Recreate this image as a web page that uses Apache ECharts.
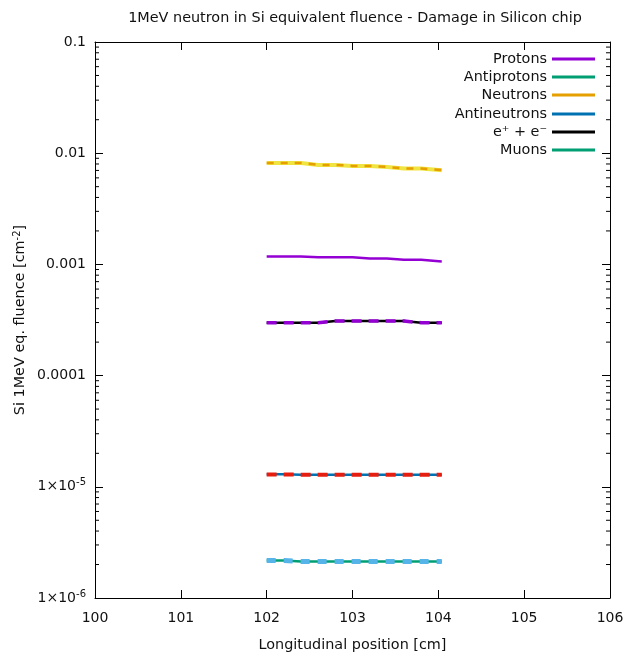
<!DOCTYPE html>
<html>
<head>
<meta charset="utf-8">
<script src="https://cdn.jsdelivr.net/npm/echarts@6/dist/echarts.min.js"></script>
<style>
  html, body { margin: 0; padding: 0; background: #fff; }
  #chart { width: 628px; height: 654px; }
</style>
</head>
<body>
<div id="chart"></div>
<script>
// bin edges along the beam (cm), last point closes the final step
const positions = [102.0, 102.2, 102.4, 102.6, 102.8, 103.0, 103.2, 103.4, 103.6, 103.8, 104.04];

const protons = [1.18e-3, 1.18e-3, 1.16e-3, 1.16e-3, 1.16e-3, 1.13e-3, 1.13e-3, 1.10e-3, 1.10e-3, 1.06e-3, 1.06e-3];
const antiprotons = [2.17e-6, 2.13e-6, 2.13e-6, 2.13e-6, 2.13e-6, 2.13e-6, 2.13e-6, 2.13e-6, 2.13e-6, 2.13e-6, 2.13e-6];
const neutrons = [8.18e-3, 8.18e-3, 7.85e-3, 7.85e-3, 7.69e-3, 7.69e-3, 7.53e-3, 7.29e-3, 7.29e-3, 7.04e-3, 7.04e-3];
const antineutrons = [1.30e-5, 1.285e-5, 1.285e-5, 1.285e-5, 1.285e-5, 1.285e-5, 1.285e-5, 1.285e-5, 1.285e-5, 1.285e-5, 1.285e-5];
const electrons = [2.99e-4, 2.99e-4, 2.99e-4, 3.09e-4, 3.09e-4, 3.09e-4, 3.09e-4, 3.09e-4, 2.99e-4, 2.99e-4, 2.99e-4];
const muons = [];

// unlabelled overlay curves
const neutronsAlt = [8.15e-3, 8.15e-3, 7.85e-3, 7.85e-3, 7.69e-3, 7.69e-3, 7.53e-3, 7.29e-3, 7.29e-3, 7.04e-3, 7.04e-3];
const electronsAlt = [2.99e-4, 2.99e-4, 2.99e-4, 3.09e-4, 3.09e-4, 3.09e-4, 3.09e-4, 3.09e-4, 2.99e-4, 2.99e-4, 2.99e-4];
const antineutronsAlt = [1.29e-5, 1.285e-5, 1.285e-5, 1.285e-5, 1.285e-5, 1.285e-5, 1.285e-5, 1.285e-5, 1.285e-5, 1.285e-5, 1.285e-5];
const antiprotonsAlt = [2.17e-6, 2.13e-6, 2.13e-6, 2.13e-6, 2.13e-6, 2.13e-6, 2.13e-6, 2.13e-6, 2.13e-6, 2.13e-6, 2.13e-6];

const legendNames = ["Protons", "Antiprotons", "Neutrons", "Antineutrons", "e\u207a + e\u207b", "Muons"];
const legendRows = [58, 76, 94, 113, 131, 149];

// log minor ticks 2..9 per decade
const minorTicks = [];
for (let e = -6; e <= -2; e++) {
  for (let m = 2; m <= 9; m++) minorTicks.push([100, m * Math.pow(10, e)]);
}

const font = "DejaVu Sans";
const pair = ys => positions.map((x, i) => [x, ys[i]]);

const stepLine = (name, data, color, width, type, z) => ({
  name: name,
  type: "line",
  step: "end",
  data: pair(data),
  symbol: "none",
  color: color,
  lineStyle: { color: color, width: width, type: type || "solid" },
  z: z || 2,
  silent: true
});

const chart = echarts.init(document.getElementById("chart"));
chart.setOption({
  animation: false,
  backgroundColor: "#fff",
  textStyle: { fontFamily: font },
  title: {
    text: "1MeV neutron in Si equivalent fluence - Damage in Silicon chip",
    left: 350,
    top: 6,
    textAlign: "center",
    textStyle: { fontFamily: font, fontSize: 14.4, fontWeight: "normal", color: "#111" }
  },
  legend: legendNames.map((n, i) => ({
    data: [n],
    right: 28,
    top: legendRows[i] - 11,
    padding: 5,
    align: "right",
    icon: "rect",
    itemWidth: 43,
    itemHeight: 3,
    selectedMode: false,
    textStyle: { fontFamily: font, fontSize: 14.4, color: "#111" }
  })),
  grid: { left: 95, right: 18, top: 42, bottom: 56, outerBoundsMode: "none" },
  xAxis: [
    {
      type: "value",
      min: 100,
      max: 106,
      interval: 1,
      name: "Longitudinal position [cm]",
      nameLocation: "middle",
      nameGap: 40,
      nameMoveOverlap: false,
      nameTextStyle: { fontFamily: font, fontSize: 14.4, color: "#111" },
      axisLine: { lineStyle: { color: "#000", width: 1 } },
      axisTick: { inside: true, length: 8, lineStyle: { color: "#000" } },
      axisLabel: { fontFamily: font, fontSize: 14, color: "#111", margin: 13 },
      splitLine: { show: false }
    },
    {
      type: "value",
      position: "top",
      min: 100,
      max: 106,
      interval: 1,
      axisLine: { lineStyle: { color: "#000", width: 1 } },
      axisTick: { inside: true, length: 8, lineStyle: { color: "#000" } },
      axisLabel: { show: false },
      splitLine: { show: false }
    }
  ],
  yAxis: [
    {
      type: "log",
      logBase: 10,
      min: 1e-6,
      max: 0.1,
      name: "Si 1MeV eq. fluence [cm{sup|-2}]",
      nameLocation: "middle",
      nameGap: 66,
      nameMoveOverlap: false,
      nameRotate: 90,
      nameTextStyle: {
        fontFamily: font,
        fontSize: 14.4,
        color: "#111",
        rich: { sup: { fontFamily: font, fontSize: 10, color: "#111", verticalAlign: "top", padding: [0, 0, 7, 0] } }
      },
      axisLine: { lineStyle: { color: "#000", width: 1 } },
      axisTick: { inside: true, length: 8, lineStyle: { color: "#000" } },
      axisLabel: {
        fontFamily: font,
        fontSize: 14,
        color: "#111",
        margin: 9,
        formatter: v => {
          const e = Math.round(Math.log10(v));
          if (e >= -4) return Math.pow(10, e).toFixed(-e);
          return "1\u00d710{sup|" + e + "}";
        },
        rich: { sup: { fontFamily: font, fontSize: 10, color: "#111", verticalAlign: "top", padding: [0, 0, 8, 0] } }
      },
      splitLine: { show: false }
    },
    {
      type: "log",
      logBase: 10,
      min: 1e-6,
      max: 0.1,
      position: "right",
      axisLine: { lineStyle: { color: "#000", width: 1 } },
      axisTick: { inside: true, length: 8, lineStyle: { color: "#000" } },
      axisLabel: { show: false },
      splitLine: { show: false }
    }
  ],
  series: [
    stepLine("", neutronsAlt, "#f0e442", 4, "solid", 2),
    stepLine("Protons", protons, "#9400d3", 2.5),
    stepLine("Antiprotons", antiprotons, "#009e73", 2.5),
    stepLine("Neutrons", neutrons, "#e69f00", 2.5, [7, 7], 3),
    stepLine("Antineutrons", antineutrons, "#0072b2", 2.5),
    stepLine("e\u207a + e\u207b", electrons, "#000000", 2.5),
    stepLine("Muons", muons, "#009e73", 2.5),
    stepLine("", electronsAlt, "#9400d3", 3.5, [10, 7], 3),
    stepLine("", antineutronsAlt, "#e51e10", 4, [10, 7], 3),
    stepLine("", antiprotonsAlt, "#56b4e9", 5, [9, 8], 3),
    {
      type: "custom",
      silent: true,
      clip: false,
      data: minorTicks,
      renderItem: (params, api) => {
        const v = api.value(1);
        const l = api.coord([100, v]);
        const r = api.coord([106, v]);
        const style = { stroke: "#000", lineWidth: 1 };
        return {
          type: "group",
          children: [
            { type: "line", shape: { x1: l[0], y1: l[1], x2: l[0] + 4, y2: l[1] }, style: style },
            { type: "line", shape: { x1: r[0] - 4, y1: r[1], x2: r[0], y2: r[1] }, style: style }
          ]
        };
      }
    }
  ]
});
</script>
</body>
</html>
